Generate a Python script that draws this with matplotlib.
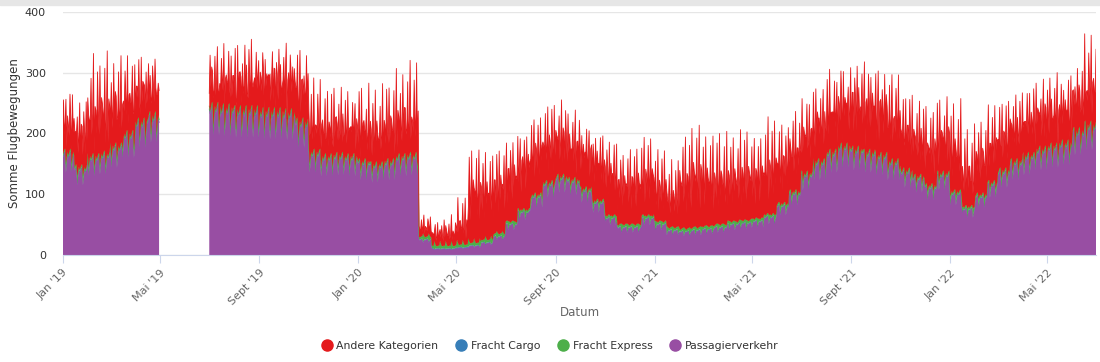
import numpy as np
import pandas as pd
import matplotlib
matplotlib.use("Agg")
import matplotlib.pyplot as plt
import matplotlib.dates as mdates
from matplotlib.lines import Line2D
from matplotlib.patches import Rectangle

# Half-month levels (1st-15th, 16th-end), Jan-Apr 2019 and Jul 2019 - Jun 2022
passagier = [
    165, 140, 158, 162, 175, 195, 215, 225,
    240, 238, 235, 235, 232, 232, 230, 215, 165, 158, 160, 158,
    150, 145, 150, 158, 160, 25, 10, 10, 12, 15, 20, 30,
    50, 70, 95, 115, 125, 120, 105, 85, 60, 45, 45, 60,
    50, 40, 38, 40, 42, 45, 50, 52, 55, 62, 80, 100,
    130, 150, 165, 175, 170, 165, 160, 150, 135, 125, 110, 130,
    100, 75, 95, 115, 135, 150, 160, 170, 175, 180, 200, 210,
]
express = [
    4, 4, 4, 4, 4, 4, 4, 4,
    4, 4, 4, 4, 4, 4, 4, 4, 4, 4, 4, 4,
    4, 4, 4, 4, 4, 4, 4, 4, 4, 4, 4, 4,
    4, 4, 4, 4, 4, 4, 4, 4, 4, 4, 4, 4,
    4, 4, 4, 4, 4, 4, 4, 4, 4, 4, 4, 4,
    4, 4, 4, 4, 4, 4, 4, 4, 4, 4, 4, 4,
    4, 4, 4, 4, 4, 4, 4, 4, 4, 4, 4, 4,
]
cargo = [
    1, 1, 1, 1, 1, 1, 1, 1,
    1, 1, 1, 1, 1, 1, 1, 1, 1, 1, 1, 1,
    1, 1, 1, 1, 1, 1, 1, 1, 1, 1, 1, 1,
    1, 1, 1, 1, 1, 1, 1, 1, 1, 1, 1, 1,
    1, 1, 1, 1, 1, 1, 1, 1, 1, 1, 1, 1,
    1, 1, 1, 1, 1, 1, 1, 1, 1, 1, 1, 1,
    1, 1, 1, 1, 1, 1, 1, 1, 1, 1, 1, 1,
]
# typical thickness of the red layer and the height of its spikes
andere_typ = [
    40, 50, 60, 60, 58, 52, 48, 48,
    42, 44, 42, 47, 50, 50, 52, 52, 42, 39, 42, 44,
    42, 42, 47, 49, 52, 12, 15, 17, 25, 75, 70, 70,
    70, 70, 65, 55, 55, 50, 55, 60, 65, 60, 60, 55,
    45, 40, 68, 75, 68, 60, 60, 63, 60, 63, 60, 60,
    60, 60, 60, 60, 70, 70, 70, 65, 60, 55, 55, 50,
    55, 40, 50, 55, 50, 50, 50, 50, 50, 50, 50, 55,
]
andere_peak = [
    110, 115, 170, 175, 150, 130, 112, 92,
    97, 104, 112, 117, 105, 110, 112, 122, 122, 119, 117, 109,
    137, 132, 147, 149, 157, 35, 40, 45, 80, 160, 145, 145,
    135, 125, 130, 140, 135, 115, 100, 110, 125, 120, 130, 135,
    125, 115, 158, 175, 155, 160, 145, 155, 140, 165, 135, 135,
    125, 125, 140, 140, 145, 150, 145, 145, 130, 130, 135, 135,
    155, 140, 130, 130, 120, 115, 125, 125, 120, 115, 115, 150,
]
# weekday factors (Mon..Sun) and a 17-day pattern for the spiky "other" flights
passagier_week = [1.0, 0.97, 0.99, 1.02, 1.03, 0.82, 0.92]
express_week = [1.0, 0.9, 1.0, 1.1, 1.0, 3.5, 2.0]
andere_base = [1.0, 1.3, 0.6, 1.1, 0.9, 0.4, 0.95, 1.25, 0.7, 1.05, 1.2, 0.5, 1.0, 0.8, 1.15, 0.6, 1.1]
andere_spike = [0, 0.5, 0, 0, 1.0, 0, 0.3, 0, 0, 0.7, 0, 0, 0.9, 0, 0.2, 0.45, 0]

series_names = ["Andere Kategorien", "Fracht Cargo", "Fracht Express", "Passagierverkehr"]
colors = {"Andere Kategorien": "#e41a1c", "Fracht Cargo": "#377eb8",
          "Fracht Express": "#4daf4a", "Passagierverkehr": "#984ea3"}
tick_months = {1: "Jan", 5: "Mai", 9: "Sept"}

# expand half-month levels to days
months = list(pd.period_range("2019-01", "2019-04", freq="M")) + \
    list(pd.period_range("2019-07", "2022-06", freq="M"))
first = pd.Timestamp("2019-01-01")
rows = []
i = 0
for m in months:
    s = m.start_time
    for a, b in [(s, s + pd.Timedelta(days=14)), (s + pd.Timedelta(days=15), m.end_time.normalize())]:
        for d in pd.date_range(a, b):
            wd = d.weekday()
            k = (d - first).days % len(andere_base)
            rows.append({
                "date": d,
                "Passagierverkehr": passagier[i] * passagier_week[wd],
                "Fracht Cargo": cargo[i],
                "Fracht Express": express[i] * express_week[wd],
                "Andere Kategorien": andere_typ[i] * andere_base[k]
                + andere_spike[k] * (andere_peak[i] - andere_typ[i]),
            })
        i += 1

df = pd.DataFrame(rows).set_index("date")
df = df.reindex(pd.date_range("2019-01-01", "2022-06-30"))

fig = plt.figure(figsize=(11, 3.62), dpi=100)
fig.add_artist(Rectangle((0, 1 - 5 / 362), 1, 5 / 362, transform=fig.transFigure,
                         color="#e6e6e6", zorder=0))
ax = fig.add_axes([0.057, 0.2956, 0.9394, 0.6713])

x = mdates.date2num(df.index.to_pydatetime())
bottom = np.zeros(len(df))
for name in ["Passagierverkehr", "Fracht Cargo", "Fracht Express", "Andere Kategorien"]:
    top = bottom + df[name].values
    ax.fill_between(x, bottom, top, color=colors[name], linewidth=0, zorder=2)
    if name != "Fracht Cargo":
        ax.plot(x, top, color=colors[name], linewidth=0.6, zorder=2)
    bottom = top

ax.set_xlim(x[0], x[-1])
ax.set_ylim(0, 400)
ax.set_yticks([0, 100, 200, 300, 400])
ax.grid(axis="y", color="#e6e6e6", linewidth=1, zorder=0)
ax.set_axisbelow(True)
for side in ["left", "right", "top"]:
    ax.spines[side].set_visible(False)
ax.spines["bottom"].set_color("#ccd6eb")

ticks = [pd.Timestamp(y, mth, 1) for y in range(2019, 2023) for mth in (1, 5, 9)
         if pd.Timestamp(y, mth, 1) <= pd.Timestamp("2022-06-30")]
ax.set_xticks(mdates.date2num([t.to_pydatetime() for t in ticks]))
ax.set_xticklabels([f"{tick_months[t.month]} '{t.year % 100:02d}" for t in ticks],
                   rotation=45, ha="right", rotation_mode="anchor")
ax.tick_params(axis="x", length=6, color="#ccd6eb", labelsize=8, labelcolor="#666666", pad=3)
ax.tick_params(axis="y", length=0, pad=12, labelsize=8, labelcolor="#333333")

fig.text(15 / 1100, 1 - 133 / 362, "Somme Flugbewegungen", rotation=90,
         ha="center", va="center", fontsize=8.5, color="#333333")
fig.text(580 / 1100, 1 - 312 / 362, "Datum", ha="center", va="center",
         fontsize=8.5, color="#666666")

handles = [Line2D([], [], marker="o", linestyle="", markersize=8, color=colors[n]) for n in series_names]
leg = fig.legend(handles, series_names, loc="center", bbox_to_anchor=(0.5, 1 - 346 / 362),
                 ncol=4, frameon=False, fontsize=7.8, handletextpad=0.4,
                 columnspacing=1.6, handlelength=1.0)
for t in leg.get_texts():
    t.set_color("#333333")

fig.savefig("out.png", dpi=100)
